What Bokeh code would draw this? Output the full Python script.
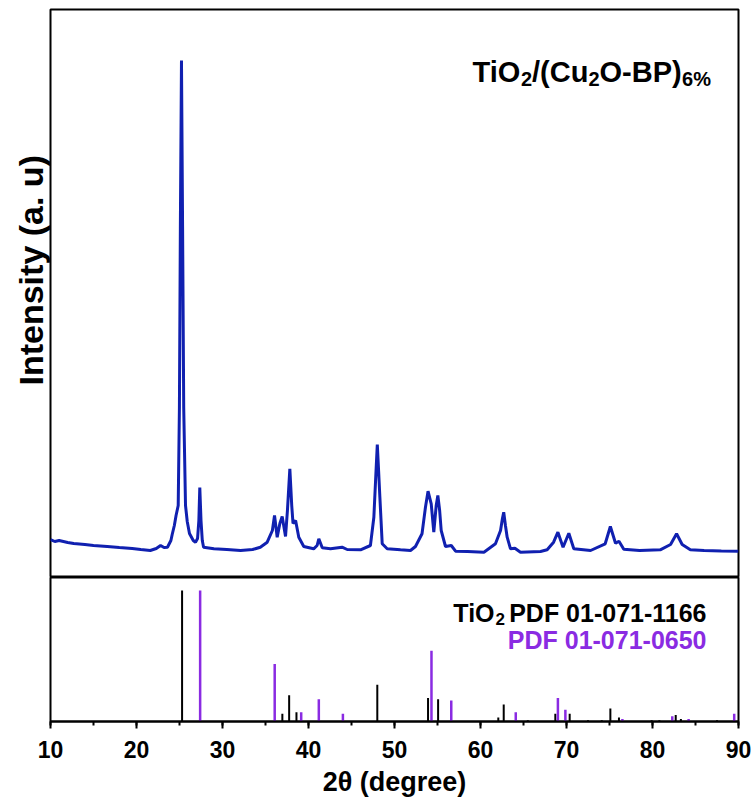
from bokeh.plotting import figure
from bokeh.layouts import column
from bokeh.models import Range1d, Label, SingleIntervalTicker, ColumnDataSource, Title
from bokeh.embed import file_html
from bokeh.resources import INLINE

two_theta = [10.0, 10.5, 11.0, 12.0, 12.7, 14.0, 15.0, 16.6, 18.0, 19.5, 20.5, 21.6, 22.3, 22.8,
             23.2, 23.6, 24.0, 24.15, 24.4, 24.6, 24.85, 24.99, 25.1, 25.23, 25.36, 25.49, 25.7,
             25.9, 26.16, 26.6, 26.86, 27.1, 27.25, 27.36, 27.5, 27.65, 27.8, 29.0, 30.5, 32.1,
             33.5, 34.4, 35.2, 35.8, 36.05, 36.36, 36.67, 36.94, 37.33, 37.55, 37.83, 38.05, 38.2,
             38.5, 38.87, 39.45, 40.6, 41.0, 41.2, 41.6, 42.56, 43.9, 44.5, 46.05, 47.2, 47.6,
             47.8, 48.0, 48.15, 48.3, 48.57, 49.15, 50.7, 51.86, 52.44, 53.2, 53.6, 53.9, 54.27,
             54.57, 54.85, 55.04, 55.25, 55.43, 55.93, 56.6, 57.1, 58.5, 60.4, 61.74, 62.33, 62.55,
             62.7, 62.9, 63.1, 63.49, 64.0, 64.65, 66.98, 67.75, 68.5, 69.0, 69.6, 70.27, 70.85,
             72.8, 74.5, 75.1, 75.7, 76.1, 76.66, 78.5, 80.9, 82.1, 82.8, 83.45, 84.4, 86.0, 88.0,
             90.0]
intensity = [380, 360, 370, 350, 340, 330, 320, 310, 300, 290, 280, 270, 290, 320,
             300, 303, 370, 430, 520, 620, 720, 1700, 3500, 5170, 3500, 1700, 720,
             560, 440, 370, 353, 390, 570, 900, 570, 370, 303, 287, 280, 270,
             280, 303, 353, 470, 620, 403, 540, 610, 410, 670, 1087, 720, 540,
             570, 403, 310, 287, 320, 387, 297, 287, 303, 280, 277, 320, 603,
             970, 1330, 1070, 803, 337, 287, 277, 270, 310, 437, 703, 863, 737,
             453, 720, 820, 670, 470, 310, 320, 263, 260, 253, 337, 470, 590,
             653, 520, 403, 287, 293, 253, 260, 277, 353, 453, 303, 443, 287,
             270, 337, 510, 343, 363, 283, 270, 277, 330, 437, 330, 277, 270, 265,
             263]

# ---- reference patterns (stick positions / relative intensities) ----
anatase_pos = [25.3, 36.96, 37.75, 38.6, 48.0, 53.9, 55.07, 62.07, 62.7, 65.5, 68.7, 70.37,
               72.5, 74.1, 75.1, 76.1, 79.9, 80.8, 82.7, 83.3, 87.5]
anatase_int = [100, 6, 20, 7, 28, 18, 17, 3, 13, 1, 6, 6,
               1, 1, 10, 3, 1, 1, 5, 2, 1]
rutile_pos = [27.4, 36.07, 39.15, 41.2, 44.0, 54.3, 56.6, 64.1, 69.0, 69.87, 76.5, 82.3, 84.2, 89.5]
rutile_int = [100, 44, 7, 17, 6, 54, 16, 7, 18, 9, 2, 4, 2, 6]

x_ticks = [10, 20, 30, 40, 50, 60, 70, 80, 90]

FONT = "Liberation Sans"
BLUE = "#1020B0"
PURPLE = "#8A2BE2"

x_range = Range1d(10, 90)

# ---------------- top panel ----------------
p1 = figure(width=756, height=577, x_range=x_range, y_range=Range1d(0, 5680),
            output_backend="svg", toolbar_location=None,
            min_border_left=50, min_border_right=18, min_border_top=9, min_border_bottom=0)
p1.xaxis.visible = False
p1.yaxis.visible = False
p1.grid.visible = False
p1.outline_line_color = "black"
p1.outline_line_width = 2
p1.outline_line_alpha = 1.0

p1.line(two_theta, intensity, line_color=BLUE, line_width=3)

# y-axis title
p1.add_layout(Title(text="Intensity (a. u)", align="left", offset=192, standoff=0,
                    vertical_align="middle",
                    text_font=FONT, text_font_style="bold", text_font_size="34px",
                    text_color="black"), "left")

# sample title TiO2/(Cu2O-BP)6%
title_parts = [("TiO", 0, 0, "29px"), ("2", 48.5, -7, "20px"), ("/(Cu", 59.5, 0, "29px"),
               ("2", 116, -7, "20px"), ("O-BP)", 127, 0, "29px"), ("6%", 209.5, -7, "20px")]
for txt, dx, dy, fs in title_parts:
    p1.add_layout(Label(x=59.07, y=5060, x_offset=dx, y_offset=dy, text=txt,
                        text_align="left", text_baseline="alphabetic",
                        text_font=FONT, text_font_style="bold", text_font_size=fs,
                        text_color="black"))

# ---------------- bottom panel ----------------
p2 = figure(width=756, height=226, x_range=x_range, y_range=Range1d(0, 110),
            output_backend="svg", toolbar_location=None,
            min_border_left=50, min_border_right=18, min_border_top=0, min_border_bottom=82)
p2.yaxis.visible = False
p2.grid.visible = False
p2.outline_line_color = "black"
p2.outline_line_width = 2

src_a = ColumnDataSource(dict(x=anatase_pos, y0=[0] * len(anatase_pos), y1=anatase_int))
src_r = ColumnDataSource(dict(x=rutile_pos, y0=[0] * len(rutile_pos), y1=rutile_int))
p2.segment(x0="x", y0="y0", x1="x", y1="y1", source=src_a, line_color="black", line_width=2)
p2.segment(x0="x", y0="y0", x1="x", y1="y1", source=src_r, line_color=PURPLE, line_width=2.5)

ax = p2.xaxis[0]
ax.ticker = SingleIntervalTicker(interval=10, num_minor_ticks=2)
ax.axis_line_width = 2
ax.major_tick_line_width = 2
ax.minor_tick_line_width = 2
ax.major_tick_in = 0
ax.major_tick_out = 7
ax.minor_tick_in = 0
ax.minor_tick_out = 4
ax.major_label_standoff = 12
ax.major_label_text_font = FONT
ax.major_label_text_font_style = "bold"
ax.major_label_text_font_size = "23px"
ax.major_label_text_color = "black"
ax.axis_label = "2\u03b8 (degree)"
ax.axis_label_standoff = 6
ax.axis_label_text_font = FONT
ax.axis_label_text_font_style = "bold"
ax.axis_label_text_font_size = "27px"
ax.axis_label_text_color = "black"

# legend texts
p2.add_layout(Label(x=86.28, y=83.2, text="PDF 01-071-1166", text_align="right",
                    text_baseline="alphabetic", text_font=FONT, text_font_style="bold",
                    text_font_size="25px", text_color="black"))
p2.add_layout(Label(x=61.63, y=83.2, text="TiO", text_align="right",
                    text_baseline="alphabetic", text_font=FONT, text_font_style="bold",
                    text_font_size="25px", text_color="black"))
p2.add_layout(Label(x=61.74, y=83.2, y_offset=-6, text="2", text_align="left",
                    text_baseline="alphabetic", text_font=FONT, text_font_style="bold",
                    text_font_size="17px", text_color="black"))
p2.add_layout(Label(x=86.28, y=62.0, text="PDF 01-071-0650", text_align="right",
                    text_baseline="alphabetic", text_font=FONT, text_font_style="bold",
                    text_font_size="25px", text_color=PURPLE))

layout = column(p1, p2, spacing=0)
open("out.html", "w").write(file_html(layout, INLINE))
